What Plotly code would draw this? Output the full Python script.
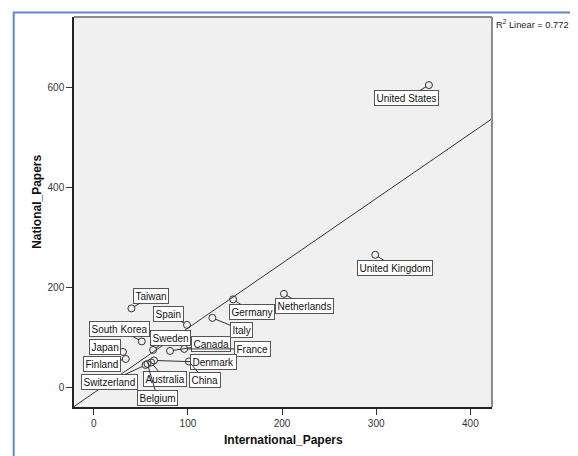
import numpy as np
import plotly.graph_objects as go

countries = ["United States", "United Kingdom", "Netherlands", "Germany", "Italy", "Spain",
             "Taiwan", "South Korea", "Sweden", "Canada", "France", "Japan", "Finland",
             "Denmark", "China", "Australia", "Switzerland", "Belgium"]
international_papers = [356, 299, 202, 148, 126, 99, 40, 51, 63, 81, 96, 31, 34, 64, 101, 61, 55, 57]
national_papers = [605, 266, 188, 177, 140, 126, 159, 93, 76, 74, 78, 72, 58, 55, 53, 51, 46, 48]
x_ticks = [0, 100, 200, 300, 400]
y_ticks = [0, 200, 400, 600]
r2_text = "R<sup>2</sup> Linear = 0.772"

# label offsets in pixels (layout only)
label_offsets = {
    "United States": (-22, 13), "United Kingdom": (20, 13), "Netherlands": (21, 12),
    "Germany": (19, 12.5), "Italy": (29, 12), "Spain": (-18, -11), "Taiwan": (20, -12.5),
    "South Korea": (-22, -12), "Sweden": (17.5, -12), "Canada": (41, -6.5),
    "France": (68, 0), "Japan": (-18, -4.5), "Finland": (-24, 5.5), "Denmark": (59, 2),
    "China": (16, 19), "Australia": (14, 17), "Switzerland": (-36.5, 17), "Belgium": (10, 34),
}

x_range = [-21, 423]
y_range = [-38, 741]

slope, intercept = np.polyfit(international_papers, national_papers, 1)
fit_x = np.array(x_range)
fit_y = slope * fit_x + intercept

FONT = "Liberation Sans, Arial, sans-serif"

# the page body has an 8px margin: work in window pixels and shift
OFF = 8
WIN_W, WIN_H = 578, 456
W, H = WIN_W - OFF, WIN_H - OFF
plot_left, plot_right, plot_top, plot_bottom = 74.3, 492.3, 17, 406.7  # window px
L = plot_left - OFF
R = W - (plot_right - OFF)
T = plot_top - OFF
B = H - (plot_bottom - OFF)
pw, ph = W - L - R, H - T - B


def px(xp):
    return (xp - OFF - L) / pw


def py(yp):
    return (H - B - (yp - OFF)) / ph


fig = go.Figure()
fig.add_trace(go.Scatter(x=fit_x, y=fit_y, mode="lines",
                         line=dict(color="#333333", width=1), hoverinfo="skip",
                         showlegend=False))
fig.add_trace(go.Scatter(x=international_papers, y=national_papers, mode="markers",
                         marker=dict(symbol="circle-open", size=7, color="#333333",
                                     line=dict(width=1)),
                         hovertext=countries, showlegend=False))

annotations = []
for c, xv, yv in zip(countries, international_papers, national_papers):
    ax, ay = label_offsets[c]
    annotations.append(dict(x=xv, y=yv, xref="x", yref="y", text=c, showarrow=True,
                            arrowhead=0, arrowwidth=1, arrowcolor="#333333",
                            ax=ax, ay=ay, standoff=3,
                            font=dict(family=FONT, size=10, color="#111111"),
                            bgcolor="white", bordercolor="#555555", borderwidth=1,
                            borderpad=1.5))

annotations += [
    dict(text=r2_text, xref="paper", yref="paper", x=px(494), y=py(24),
         xanchor="left", yanchor="middle", showarrow=False,
         font=dict(family=FONT, size=9.3, color="#222222")),
    dict(text="<b>International_Papers</b>", xref="paper", yref="paper", x=0.5, y=py(440),
         xanchor="center", yanchor="middle", showarrow=False,
         font=dict(family=FONT, size=12, color="#111111")),
    dict(text="<b>National_Papers</b>", xref="paper", yref="paper", x=px(37), y=py(202),
         xanchor="center", yanchor="middle", showarrow=False, textangle=-90,
         font=dict(family=FONT, size=12, color="#111111")),
]

shapes = [
    # outer blue frame
    dict(type="rect", xref="paper", yref="paper", x0=px(14), x1=px(575.5), y0=py(480),
         y1=py(12.5), line=dict(color="#5B8BCB", width=2), fillcolor="rgba(0,0,0,0)",
         layer="below"),
    # top and right plot borders (gray)
    dict(type="line", xref="paper", yref="paper", x0=0, x1=1, y0=1, y1=1,
         line=dict(color="#8A8A8A", width=2)),
    dict(type="line", xref="paper", yref="paper", x0=1, x1=1, y0=0, y1=1,
         line=dict(color="#8A8A8A", width=2)),
]

fig.update_layout(
    width=W, height=H, margin=dict(l=L, r=R, t=T, b=B, autoexpand=False),
    paper_bgcolor="white", plot_bgcolor="#F0F0F0",
    annotations=annotations, shapes=shapes, showlegend=False,
    font=dict(family=FONT),
)
fig.update_xaxes(range=x_range, tickvals=x_ticks, showgrid=False, zeroline=False,
                 showline=True, linecolor="#222222", linewidth=1.5, ticks="outside",
                 ticklen=6, tickcolor="#333333", automargin=False,
                 tickfont=dict(family=FONT, size=10, color="#333333"))
fig.update_yaxes(range=y_range, tickvals=y_ticks, showgrid=False, zeroline=False,
                 showline=True, linecolor="#222222", linewidth=1.5, ticks="outside",
                 ticklen=6, tickcolor="#333333", automargin=False,
                 tickfont=dict(family=FONT, size=10, color="#333333"))

fig.write_html("out.html")
